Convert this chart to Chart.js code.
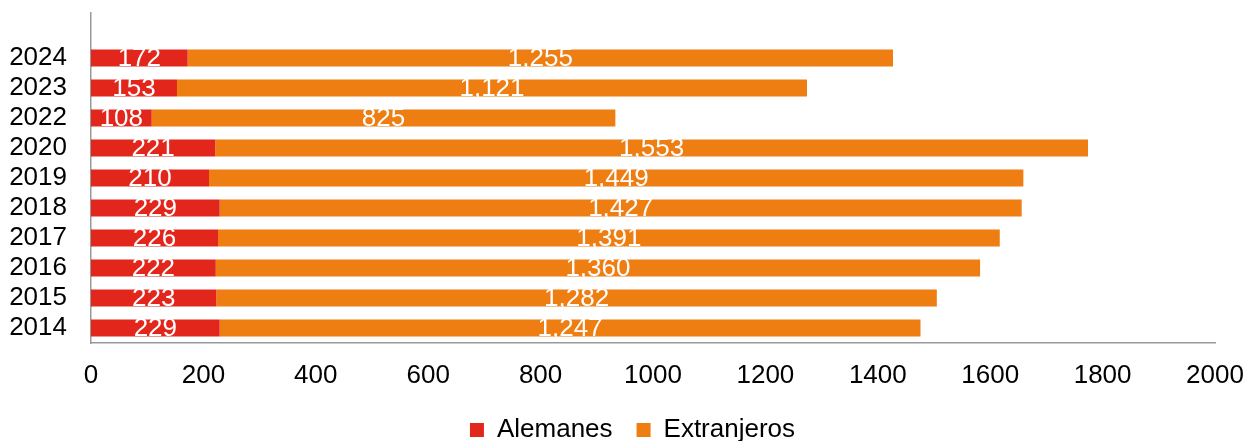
<!DOCTYPE html>
<html>
<head>
<meta charset="utf-8">
<script src="https://cdn.jsdelivr.net/npm/chart.js@4"></script>
<style>
    body { margin: 0; background: #fff; }
    #wrap { width: 1248px; height: 441px; }
</style>
</head>
<body>
<div id="wrap"><canvas id="chartYears"></canvas></div>
<script>
// top slot of the axis is empty in the original
const years = ["", "2024", "2023", "2022", "2020", "2019", "2018", "2017", "2016", "2015", "2014"];
const alemanes = [null, 172, 153, 108, 221, 210, 229, 226, 222, 223, 229];
const extranjeros = [null, 1255, 1121, 825, 1553, 1449, 1427, 1391, 1360, 1282, 1247];
const xTicks = [0, 200, 400, 600, 800, 1000, 1200, 1400, 1600, 1800, 2000];

const FONT = "'Liberation Sans', Arial, sans-serif";

const barLabels = {
    id: "barLabels",
    afterDatasetsDraw(chart) {
        const ctx = chart.ctx;
        ctx.save();
        ctx.font = "26px " + FONT;
        ctx.fillStyle = "#fff";
        ctx.textAlign = "center";
        ctx.textBaseline = "middle";
        chart.data.datasets.forEach((ds, i) => {
            chart.getDatasetMeta(i).data.forEach((bar, j) => {
                const v = ds.data[j];
                if (v == null) return;
                const p = bar.getProps(["x", "y", "base"], true);
                ctx.fillText(v.toLocaleString("en-US"), (p.x + p.base) / 2, p.y + 1);
            });
        });
        ctx.restore();
    }
};

// nudge the legend a bit to the right, like the original
const legendShift = {
    id: "legendShift",
    afterLayout(chart) {
        chart.legend.left += 25;
        chart.legend.right += 25;
    }
};

new Chart(document.getElementById("chartYears"), {
    type: "bar",
    data: {
        labels: years,
        datasets: [
            {
                label: "Alemanes",
                data: alemanes,
                backgroundColor: "#E2261C",
                categoryPercentage: 1,
                barPercentage: 0.57
            },
            {
                label: "Extranjeros",
                data: extranjeros,
                backgroundColor: "#EE7D12",
                categoryPercentage: 1,
                barPercentage: 0.57
            }
        ]
    },
    options: {
        indexAxis: "y",
        responsive: true,
        maintainAspectRatio: false,
        animation: false,
        layout: {
            padding: { top: 13, right: 33, bottom: -12, left: 0 }
        },
        scales: {
            x: {
                stacked: true,
                min: 0,
                max: 2000,
                afterBuildTicks: (scale) => {
                    scale.ticks = xTicks.map(v => ({ value: v }));
                },
                afterFit: (scale) => {
                    scale.height = 50;
                    scale.paddingLeft = 0;
                    scale.paddingRight = 0;
                },
                grid: { display: false, drawTicks: false },
                border: { color: "#999", width: 1.5 },
                ticks: {
                    padding: 17,
                    color: "#000",
                    callback: (v) => String(v),
                    font: { family: FONT, size: 26 }
                }
            },
            y: {
                stacked: true,
                afterFit: (scale) => {
                    scale.width = 91;
                    scale.paddingTop = 0;
                    scale.paddingBottom = 0;
                },
                grid: { display: false, drawTicks: false },
                border: { color: "#999", width: 1.5 },
                ticks: {
                    padding: 24,
                    autoSkip: false,
                    color: "#000",
                    font: { family: FONT, size: 26 }
                }
            }
        },
        plugins: {
            tooltip: { enabled: false },
            legend: {
                position: "bottom",
                labels: {
                    boxWidth: 14,
                    boxHeight: 14,
                    padding: 24,
                    color: "#000",
                    font: { family: FONT, size: 26 }
                }
            }
        }
    },
    plugins: [barLabels, legendShift]
});
</script>
</body>
</html>
